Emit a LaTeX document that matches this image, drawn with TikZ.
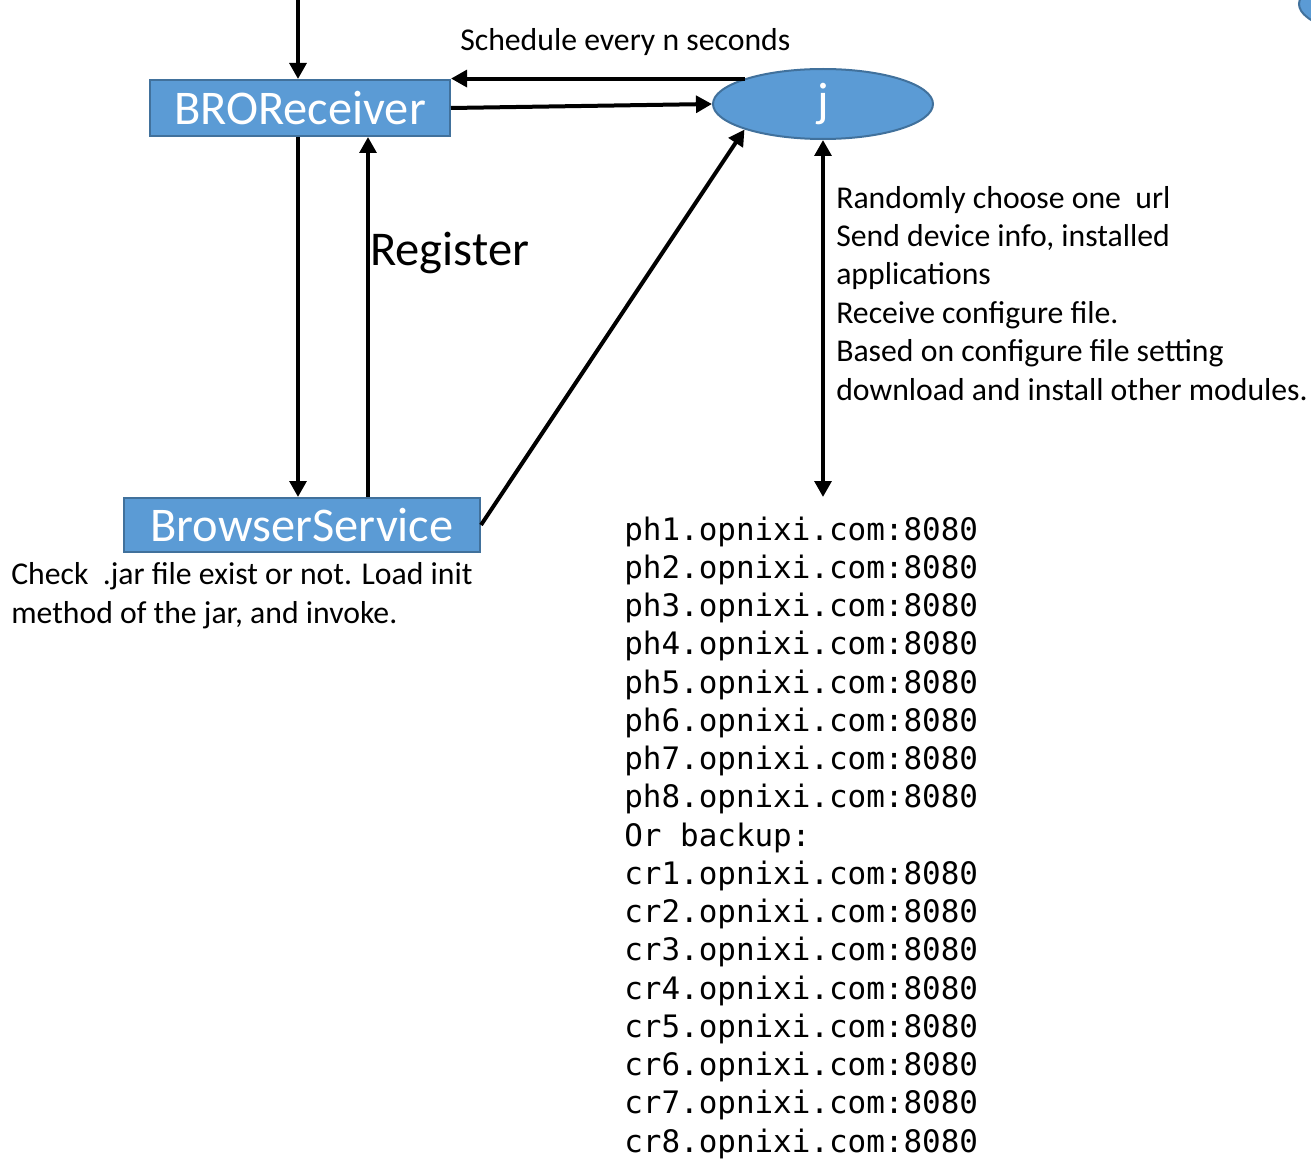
\documentclass[tikz,border=0pt]{standalone}
\usepackage{fontspec}
\setmainfont{Carlito}
\setmonofont{DejaVu Sans Mono}
\usetikzlibrary{arrows.meta,shapes.geometric}
\definecolor{boxblue}{HTML}{5B9BD5}
\definecolor{boxedge}{HTML}{41719C}
\tikzset{
  comp/.style={draw=boxedge,fill=boxblue,line width=1.5pt,text=white,
    font=\fontsize{36.3}{43}\selectfont,inner sep=0pt},
  flow/.style={line width=3pt,-{Triangle[length=12pt,width=12.5pt]}},
  note/.style={font=\fontsize{23.8}{28.8}\selectfont,inner sep=0pt,anchor=base west},
  url/.style={font=\ttfamily\fontsize{23.2}{28.7}\selectfont,inner sep=0pt,anchor=base west}
}
\begin{document}
\begin{tikzpicture}[x=0.75pt,y=-0.75pt]
\useasboundingbox (0,0) rectangle (1311,1159);
% components
\node[comp,minimum width=225pt,minimum height=42pt] (recv) at (300,108) {BROReceiver};
\node[comp,minimum width=267pt,minimum height=40.5pt] (svc) at (302,525) {BrowserService};
\node[comp,ellipse,minimum width=165pt,minimum height=52.5pt] (j) at (823,104) {j};
\begin{scope}
  \clip (0,0) rectangle (1311,1159);
  \node[comp,ellipse,minimum width=165pt,minimum height=52.5pt] (next) at (1409,4) {};
\end{scope}
% texts
\node[note] (sched) at (460,51) {Schedule every n seconds};
\node[note,font=\fontsize{36.4}{42}\selectfont] (reglabel) at (370,266) {Register};
\node[note,align=left] (steps) at (836,400) {Randomly choose one\ \ url\\Send device info, installed\\applications\\Receive configure file.\\Based on configure file setting\\download and install other modules.};
\node[note,align=left] (check) at (11,623) {Check\ \ .jar file exist or not. Load init\\method of the jar, and invoke.};
% url list
\foreach \i in {1,...,8}
  \node[url] (ph\i) at (624,{540+38.25*(\i-1)}) {ph\i.opnixi.com:8080};
\node[url] (backup) at (624,{540+38.25*8}) {Or backup:};
\foreach \i in {1,...,8}
  \node[url] (cr\i) at (624,{540+38.25*(\i+8)}) {cr\i.opnixi.com:8080};
% arrows
\coordinate (feed) at (298,0);
\coordinate (reg) at (368,0);
\coordinate (urls) at (823,497);
\draw[flow] (feed) -- (feed |- recv.north);
\draw[flow] (j.north west) -- (j.north west -| recv.east);
\draw[flow] (recv.east) -- (j.west);
\draw[flow] (recv.south -| feed) -- (svc.north -| feed);
\draw[flow] (svc.north -| reg) -- (recv.south -| reg);
\draw[flow] (svc.east) -- (j.south west);
\draw[line width=3pt,{Triangle[length=12pt,width=12.5pt]}-{Triangle[length=12pt,width=12.5pt]}] (j.south) -- (urls);
\end{tikzpicture}
\end{document}
